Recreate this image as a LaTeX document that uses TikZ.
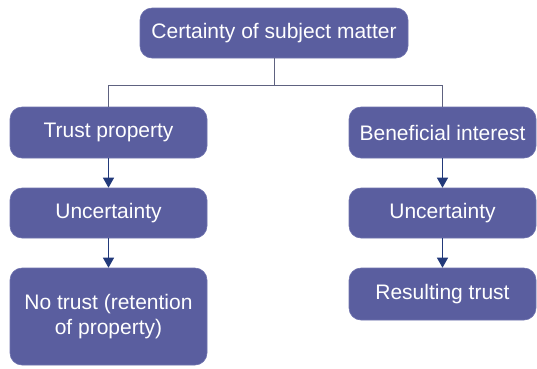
\documentclass[tikz,border=0pt]{standalone}
\usepackage{fontspec}
\setmainfont{Liberation Sans}
\usetikzlibrary{arrows.meta}
\definecolor{boxfill}{HTML}{5A5E9F}
\definecolor{boxedge}{HTML}{6E72AE}
\definecolor{linkcol}{HTML}{5E6280}
\definecolor{arrowcol}{HTML}{22397A}
\tikzset{
  flowbox/.style={rectangle, rounded corners=12pt, fill=boxfill, draw=boxedge, line width=0.6pt,
    text=white, font=\fontsize{21}{24.5}\selectfont, align=center, inner sep=0pt},
  treeline/.style={draw=linkcol, line width=1pt},
  flowarrow/.style={draw=arrowcol, line width=1pt, -{Triangle[width=11pt,length=10pt]}}
}
\begin{document}
\begin{tikzpicture}[x=1pt,y=-1pt]
\useasboundingbox (0,0) rectangle (537,368);
\node[flowbox, minimum width=268pt, minimum height=50pt] (top) at (274,33) {Certainty of subject matter};
\node[flowbox, minimum width=197pt, minimum height=51pt] (tp) at (108.5,132.5) {Trust property};
\node[flowbox, minimum width=197pt, minimum height=50pt] (ul) at (108.5,213) {Uncertainty};
\node[flowbox, minimum width=197pt, minimum height=97pt] (nt) at (108.5,316.5) {No trust (retention\\of property)};
\node[flowbox, minimum width=187pt, minimum height=51pt] (bi) at (442.5,132.5) {Beneficial interest};
\node[flowbox, minimum width=187pt, minimum height=50pt] (ur) at (442.5,213) {Uncertainty};
\node[flowbox, minimum width=187pt, minimum height=52pt] (rt) at (442.5,294) {Resulting trust};
\coordinate (j) at (274,85);
\draw[treeline] (top.south) -- (j);
\draw[treeline] (tp.north) |- (j);
\draw[treeline] (bi.north) |- (j);
\draw[flowarrow] (tp.south) -- (ul.north);
\draw[flowarrow] (ul.south) -- (nt.north);
\draw[flowarrow] (bi.south) -- (ur.north);
\draw[flowarrow] (ur.south) -- (rt.north);
\end{tikzpicture}
\end{document}
